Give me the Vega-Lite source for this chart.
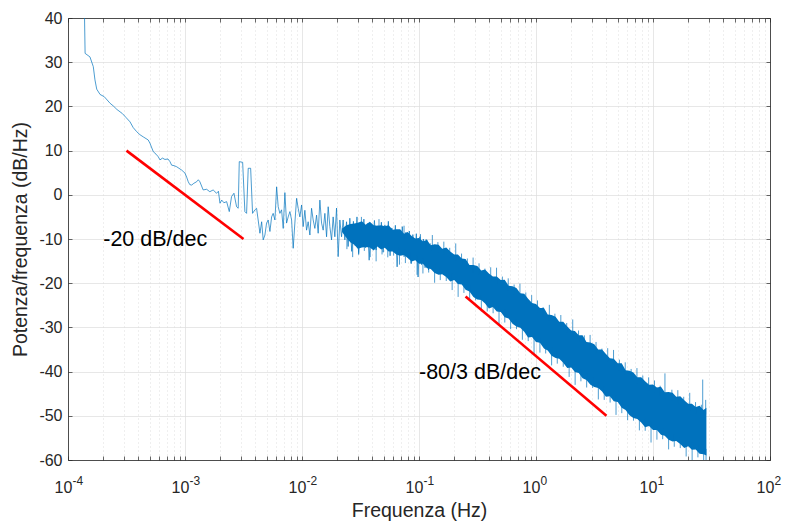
{
  "$schema": "https://vega.github.io/schema/vega-lite/v6.json",
  "width": 702,
  "height": 442,
  "autosize": {"type": "none"},
  "padding": {"left": 68, "top": 18, "right": 15, "bottom": 61},
  "background": "white",
  "config": {"font": "Liberation Sans", "view": {"stroke": null}},
  "datasets": {
    "trace": [
      {"f":0.000137,"p":48},{"f":0.00014,"p":32.0},{"f":0.000154,"p":31.2},{"f":0.0001645,"p":29.0},{"f":0.00017,"p":26.0},{"f":0.000176,"p":23.9},{"f":0.000188,"p":22.7},{"f":0.000204,"p":22.2},{"f":0.000229,"p":20.7},{"f":0.000244,"p":20.1},{"f":0.000262,"p":19.3},{"f":0.000291,"p":18.4},{"f":0.000313,"p":17.5},{"f":0.000339,"p":16.5},{"f":0.000361,"p":15.2},{"f":0.000386,"p":14.3},{"f":0.000412,"p":13.6},{"f":0.00044,"p":13.1},{"f":0.000485,"p":12.4},{"f":0.000502,"p":11.65},{"f":0.000536,"p":9.75},{"f":0.000565,"p":9.2},{"f":0.000591,"p":8.6},{"f":0.000611,"p":7.9},{"f":0.000642,"p":8.3},{"f":0.000674,"p":8.0},{"f":0.000715,"p":8.1},{"f":0.000744,"p":7.5},{"f":0.000769,"p":6.7},{"f":0.000805,"p":6.6},{"f":0.000848,"p":6.35},{"f":0.000888,"p":6.0},{"f":0.000936,"p":5.6},{"f":0.001,"p":4.9},
      {"f":0.001033,"p":4.0},{"f":0.001066,"p":2.95},{"f":0.0011,"p":2.3},{"f":0.00114,"p":2.2},{"f":0.00119,"p":2.6},{"f":0.001257,"p":2.95},{"f":0.0013,"p":3.4},{"f":0.00134,"p":2.95},{"f":0.00143,"p":1.1},{"f":0.00153,"p":1.25},{"f":0.00163,"p":0.7},{"f":0.00174,"p":1.1},{"f":0.00186,"p":0.35},{"f":0.00193,"p":0.8},{"f":0.00199,"p":-1.9},{"f":0.00206,"p":-1.2},{"f":0.00215,"p":-1.8},{"f":0.00227,"p":-1.55},{"f":0.00239,"p":-3.8},{"f":0.0025,"p":-0.4},{"f":0.00262,"p":0.35},{"f":0.00276,"p":-2.7},{"f":0.00285,"p":-3.05},{"f":0.00291,"p":7.5},{"f":0.00311,"p":7.35},{"f":0.00325,"p":-3.8},{"f":0.00336,"p":-4.2},{"f":0.00347,"p":6.0},{"f":0.00364,"p":6.0},{"f":0.00378,"p":-4.2},{"f":0.00396,"p":-3.4},{"f":0.00409,"p":-3.05},{"f":0.00422,"p":-5.7},{"f":0.00437,"p":-8.7},{"f":0.00452,"p":-6.1},{"f":0.00466,"p":-10.2},{"f":0.00482,"p":-9.1},{"f":0.00498,"p":-6.4},{"f":0.00514,"p":-5.7},{"f":0.00532,"p":-8.3},{"f":0.0055,"p":-5.0},{"f":0.00567,"p":-4.2},{"f":0.00587,"p":-5.7},{"f":0.00607,"p":1.8},{"f":0.00626,"p":-2.7},{"f":0.00647,"p":-4.2},{"f":0.00669,"p":-3.4},{"f":0.00691,"p":-7.6},{"f":0.00714,"p":0.5},{"f":0.00738,"p":-6.4},{"f":0.00762,"p":-5.0},{"f":0.00788,"p":-3.8},{"f":0.00815,"p":-5.7},{"f":0.00841,"p":-12.1},{"f":0.00869,"p":-6.4},{"f":0.00899,"p":-0.8},{"f":0.00928,"p":-3.05},{"f":0.00959,"p":-5.0},{"f":0.00992,"p":-2.3},
      {"f":0.01023,"p":-7.2},{"f":0.01058,"p":-3.5},{"f":0.01094,"p":-8.0},{"f":0.01129,"p":-6.1},{"f":0.01168,"p":-9.1},{"f":0.01207,"p":-3.05},{"f":0.01246,"p":-5.7},{"f":0.01288,"p":-7.6},{"f":0.01332,"p":-4.6},{"f":0.01375,"p":-8.7},{"f":0.01422,"p":-1.2},{"f":0.0147,"p":-6.4},{"f":0.01517,"p":-8.0},{"f":0.01569,"p":-4.2},{"f":0.01622,"p":-9.5},{"f":0.01674,"p":-2.7},{"f":0.0173,"p":-7.2},{"f":0.01789,"p":-10.2},{"f":0.01846,"p":-5.0},{"f":0.01909,"p":-9.5},{"f":0.01974,"p":-3.0},{"f":0.02037,"p":-14.0},{"f":0.02106,"p":-5.7},{"f":0.02178,"p":-9.5},{"f":0.02247,"p":-5.7},{"f":0.02324,"p":-10.2},{"f":0.02403,"p":-6.1},{"f":0.0248,"p":-11.7},{"f":0.02564,"p":-5.3},
      {"f":0.0266,"p":-12.8},{"f":0.0275,"p":-6.0},{"f":0.0285,"p":-11.5},{"f":0.0295,"p":-5.0},{"f":0.0305,"p":-13.5},{"f":0.0316,"p":-7.0},{"f":0.0327,"p":-10.5},{"f":0.0338,"p":-5.5},{"f":0.035,"p":-12.0},{"f":0.0362,"p":-6.5},{"f":0.0375,"p":-14.8},{"f":0.0388,"p":-7.5},{"f":0.0402,"p":-11.0},{"f":0.0416,"p":-5.8},{"f":0.043,"p":-12.5},{"f":0.0445,"p":-7.0},{"f":0.0461,"p":-10.8},{"f":0.0477,"p":-6.2},{"f":0.0494,"p":-13.0},{"f":0.0511,"p":-6.8},{"f":0.0529,"p":-11.8},{"f":0.0547,"p":-6.0},{"f":0.0566,"p":-13.8},{"f":0.0586,"p":-7.5},{"f":0.0607,"p":-12.2},{"f":0.0628,"p":-6.9},{"f":0.065,"p":-16.3},{"f":0.0673,"p":-8.0},{"f":0.0696,"p":-12.8},{"f":0.072,"p":-7.2},{"f":0.0746,"p":-14.0},{"f":0.0772,"p":-8.5},{"f":0.0799,"p":-13.2},{"f":0.0827,"p":-8.2},{"f":0.0856,"p":-15.5},{"f":0.0886,"p":-9.0},{"f":0.0917,"p":-14.5},{"f":0.0949,"p":-8.8},{"f":0.0982,"p":-18.6},{"f":0.1016,"p":-9.5},{"f":0.1052,"p":-15.8},{"f":0.1089,"p":-10.0},{"f":0.1127,"p":-16.5},{"f":0.1166,"p":-10.2},{"f":0.1207,"p":-17.0},{"f":0.125,"p":-11.0}
    ],
    "band": [
      {"f":0.022,"hi":-7.6,"lo":-8.4},{"f":0.024,"hi":-6.9,"lo":-9.8},{"f":0.026,"hi":-6.6,"lo":-10.8},{"f":0.028,"hi":-6.5,"lo":-11.3},{"f":0.03,"hi":-6.3,"lo":-12.2},
      {"f":0.0325,"hi":-6.0,"lo":-11.9},{"f":0.035,"hi":-6.8,"lo":-11.8},{"f":0.038,"hi":-6.1,"lo":-11.9},{"f":0.041,"hi":-6.9,"lo":-12.6},{"f":0.044,"hi":-7.0,"lo":-11.7},{"f":0.0475,"hi":-6.9,"lo":-12.4},{"f":0.051,"hi":-7.1,"lo":-12.0},{"f":0.055,"hi":-6.9,"lo":-12.8},{"f":0.0595,"hi":-7.9,"lo":-12.8},{"f":0.064,"hi":-7.8,"lo":-13.5},
      {"f":0.069,"hi":-7.8,"lo":-13.8},{"f":0.0745,"hi":-8.8,"lo":-13.6},{"f":0.08,"hi":-8.4,"lo":-14.3},{"f":0.0865,"hi":-9.3,"lo":-15.1},{"f":0.093,"hi":-9.9,"lo":-14.8},{"f":0.1,"hi":-9.8,"lo":-15.6},{"f":0.108,"hi":-10.5,"lo":-15.6},{"f":0.117,"hi":-10.2,"lo":-16.6},{"f":0.126,"hi":-11.4,"lo":-16.8},{"f":0.136,"hi":-11.2,"lo":-17.7},
      {"f":0.147,"hi":-11.3,"lo":-18.1},{"f":0.158,"hi":-12.2,"lo":-18.0},{"f":0.171,"hi":-11.9,"lo":-18.6},{"f":0.185,"hi":-12.8,"lo":-19.6},{"f":0.2,"hi":-13.5,"lo":-19.3},{"f":0.215,"hi":-13.5,"lo":-20.2},{"f":0.232,"hi":-14.4,"lo":-20.3},{"f":0.25,"hi":-14.5,"lo":-21.5},{"f":0.27,"hi":-15.9,"lo":-21.9},{"f":0.292,"hi":-15.9,"lo":-23.1},
      {"f":0.315,"hi":-16.1,"lo":-23.7},{"f":0.34,"hi":-17.1,"lo":-23.8},{"f":0.367,"hi":-16.9,"lo":-24.6},{"f":0.396,"hi":-17.8,"lo":-25.7},{"f":0.428,"hi":-18.5,"lo":-25.4},{"f":0.462,"hi":-18.5,"lo":-26.4},{"f":0.5,"hi":-19.3,"lo":-26.5},{"f":0.54,"hi":-19.2,"lo":-27.7},{"f":0.583,"hi":-20.6,"lo":-28.0},{"f":0.63,"hi":-20.7,"lo":-29.2},
      {"f":0.68,"hi":-21.1,"lo":-29.8},{"f":0.734,"hi":-22.3,"lo":-30.1},{"f":0.793,"hi":-22.4,"lo":-31.0},{"f":0.856,"hi":-23.5,"lo":-32.3},{"f":0.925,"hi":-24.5,"lo":-32.2},{"f":1.0,"hi":-24.7,"lo":-33.3},{"f":1.08,"hi":-25.6,"lo":-33.5},{"f":1.17,"hi":-25.6,"lo":-34.8},{"f":1.26,"hi":-27.1,"lo":-35.2},{"f":1.36,"hi":-27.2,"lo":-36.4},
      {"f":1.47,"hi":-27.6,"lo":-36.9},{"f":1.58,"hi":-28.7,"lo":-37.1},{"f":1.71,"hi":-28.7,"lo":-38.0},{"f":1.85,"hi":-29.8,"lo":-39.2},{"f":2.0,"hi":-30.7,"lo":-39.1},{"f":2.15,"hi":-30.8,"lo":-40.1},{"f":2.32,"hi":-31.8,"lo":-40.3},{"f":2.5,"hi":-31.8,"lo":-41.5},{"f":2.7,"hi":-33.3,"lo":-41.9},{"f":2.92,"hi":-33.4,"lo":-43.0},
      {"f":3.15,"hi":-33.8,"lo":-43.5},{"f":3.4,"hi":-35.0,"lo":-43.7},{"f":3.67,"hi":-35.0,"lo":-44.5},{"f":3.96,"hi":-36.0,"lo":-45.7},{"f":4.28,"hi":-37.0,"lo":-45.6},{"f":4.62,"hi":-37.1,"lo":-46.7},{"f":5.0,"hi":-38.1,"lo":-46.9},{"f":5.4,"hi":-38.1,"lo":-48.2},{"f":5.83,"hi":-39.7,"lo":-48.7},{"f":6.3,"hi":-39.8,"lo":-49.9},
      {"f":6.8,"hi":-40.2,"lo":-50.5},{"f":7.34,"hi":-41.3,"lo":-50.7},{"f":7.93,"hi":-41.3,"lo":-51.5},{"f":8.56,"hi":-42.2,"lo":-52.6},{"f":9.25,"hi":-43.0,"lo":-52.3},{"f":10,"hi":-42.9,"lo":-53.2},{"f":10.8,"hi":-43.6,"lo":-53.2},{"f":11.7,"hi":-43.4,"lo":-54.3},{"f":12.6,"hi":-44.7,"lo":-54.5},{"f":13.6,"hi":-44.6,"lo":-55.4},
      {"f":14.7,"hi":-44.8,"lo":-55.8},{"f":15.8,"hi":-45.7,"lo":-55.7},{"f":17.1,"hi":-45.6,"lo":-56.4},{"f":18.5,"hi":-46.5,"lo":-57.3},{"f":20,"hi":-47.3,"lo":-56.9},{"f":21.5,"hi":-47.3,"lo":-57.7},{"f":23.2,"hi":-48.0,"lo":-57.6},{"f":25,"hi":-47.7,"lo":-58.6},{"f":27,"hi":-48.7,"lo":-58.7},{"f":28.6,"hi":-48.2,"lo":-59.0}
    ],
    "spikes": [
      {"f":0.0322,"hi":-5.0,"lo":-8},{"f":0.0455,"hi":-5.5,"lo":-8},{"f":0.0745,"hi":-7.0,"lo":-10},
      {"f":0.103,"hi":-8.9,"lo":-11.6},{"f":0.115,"hi":-10.0,"lo":-12.1},{"f":0.13,"hi":-9.1,"lo":-12.6},{"f":0.145,"hi":-10.7,"lo":-13.1},{"f":0.163,"hi":-10.6,"lo":-13.6},{"f":0.183,"hi":-12.0,"lo":-14.2},{"f":0.206,"hi":-11.0,"lo":-14.9},{"f":0.231,"hi":-13.3,"lo":-15.8},{"f":0.259,"hi":-14.4,"lo":-16.7},{"f":0.29,"hi":-14.2,"lo":-17.5},
      {"f":0.326,"hi":-15.5,"lo":-18.1},{"f":0.366,"hi":-16.7,"lo":-18.8},{"f":0.41,"hi":-16.4,"lo":-19.5},{"f":0.46,"hi":-16.5,"lo":-20.2},{"f":0.516,"hi":-18.5,"lo":-20.9},{"f":0.579,"hi":-18.9,"lo":-21.7},{"f":0.65,"hi":-20.3,"lo":-22.5},{"f":0.729,"hi":-20.1,"lo":-23.5},{"f":0.818,"hi":-22.1,"lo":-24.6},{"f":0.918,"hi":-22.7,"lo":-25.6},
      {"f":1.03,"hi":-23.9,"lo":-26.6},{"f":1.15,"hi":-25.4,"lo":-27.5},{"f":1.3,"hi":-24.9,"lo":-28.4},{"f":1.45,"hi":-26.9,"lo":-29.3},{"f":1.63,"hi":-27.2,"lo":-30.2},{"f":1.83,"hi":-29.0,"lo":-31.2},{"f":2.06,"hi":-28.2,"lo":-32.1},{"f":2.31,"hi":-30.7,"lo":-33.2},{"f":2.59,"hi":-31.8,"lo":-34.1},{"f":2.9,"hi":-31.7,"lo":-35.0},
      {"f":3.26,"hi":-33.3,"lo":-35.9},{"f":3.66,"hi":-34.8,"lo":-36.9},{"f":4.1,"hi":-34.7,"lo":-37.8},{"f":4.6,"hi":-35.1,"lo":-38.8},{"f":5.16,"hi":-37.3,"lo":-39.7},{"f":5.79,"hi":-37.9,"lo":-40.7},{"f":6.5,"hi":-39.4,"lo":-41.6},{"f":7.29,"hi":-39.2,"lo":-42.6},{"f":8.18,"hi":-40.9,"lo":-43.4},{"f":9.18,"hi":-41.3,"lo":-44.2},
      {"f":10.3,"hi":-42.0,"lo":-44.7},{"f":11.5,"hi":-43.2,"lo":-45.3},{"f":12.65,"hi":-40.4,"lo":-46.0},{"f":14.5,"hi":-44.1,"lo":-46.5},{"f":16.3,"hi":-44.2,"lo":-47.2},{"f":18.3,"hi":-45.7,"lo":-47.9},{"f":20.6,"hi":-44.8,"lo":-48.7},{"f":23.1,"hi":-46.9,"lo":-49.4},{"f":25.9,"hi":-47.5,"lo":-49.8},{"f":26.6,"hi":-41.8,"lo":-49.5},{"f":28.2,"hi":-46.4,"lo":-49.7},
      {"f":0.0242,"hi":-9.8,"lo":-12.3},{"f":0.0271,"hi":-10.0,"lo":-14.1},{"f":0.0305,"hi":-10.3,"lo":-13.1},{"f":0.0341,"hi":-10.3,"lo":-12.7},{"f":0.0383,"hi":-10.4,"lo":-14.1},{"f":0.043,"hi":-10.55,"lo":-15.05},{"f":0.0483,"hi":-10.8,"lo":-13.5},{"f":0.0541,"hi":-11.05,"lo":-14.15},{"f":0.0607,"hi":-11.45,"lo":-13.75},{"f":0.0681,"hi":-11.9,"lo":-15.8},{"f":0.0765,"hi":-12.45,"lo":-15.45},{"f":0.0858,"hi":-13.05,"lo":-15.65},{"f":0.0962,"hi":-13.8,"lo":-18.1},
      {"f":0.108,"hi":-14.5,"lo":-17.8},{"f":0.121,"hi":-15.1,"lo":-17.6},{"f":0.136,"hi":-15.8,"lo":-19.9},{"f":0.152,"hi":-16.5,"lo":-19.3},{"f":0.171,"hi":-17.1,"lo":-19.5},{"f":0.192,"hi":-17.85,"lo":-21.55},{"f":0.216,"hi":-18.6,"lo":-23.1},{"f":0.242,"hi":-19.5,"lo":-22.2},{"f":0.271,"hi":-20.5,"lo":-23.6},{"f":0.305,"hi":-21.6,"lo":-23.9},
      {"f":0.341,"hi":-22.5,"lo":-26.4},{"f":0.383,"hi":-23.4,"lo":-26.4},{"f":0.43,"hi":-24.2,"lo":-26.8},{"f":0.483,"hi":-25.1,"lo":-29.4},{"f":0.541,"hi":-26.0,"lo":-28.9},{"f":0.607,"hi":-27.0,"lo":-30.4},{"f":0.681,"hi":-28.0,"lo":-30.4},{"f":0.765,"hi":-29.2,"lo":-32.8},{"f":0.858,"hi":-30.3,"lo":-33.1},{"f":0.962,"hi":-31.35,"lo":-36.05},
      {"f":1.08,"hi":-32.4,"lo":-35.7},{"f":1.21,"hi":-33.4,"lo":-35.9},{"f":1.36,"hi":-34.5,"lo":-38.6},{"f":1.52,"hi":-35.4,"lo":-38.2},{"f":1.71,"hi":-36.5,"lo":-38.9},{"f":1.92,"hi":-37.5,"lo":-41.2},{"f":2.16,"hi":-38.5,"lo":-43.0},{"f":2.42,"hi":-39.5,"lo":-42.2},{"f":2.71,"hi":-40.5,"lo":-43.6},{"f":3.05,"hi":-41.4,"lo":-43.7},
      {"f":3.41,"hi":-42.4,"lo":-46.3},{"f":3.83,"hi":-43.4,"lo":-46.4},{"f":4.3,"hi":-44.4,"lo":-47.0},{"f":4.83,"hi":-45.5,"lo":-49.8},{"f":5.41,"hi":-46.5,"lo":-49.4},{"f":6.07,"hi":-47.6,"lo":-51.0},{"f":6.81,"hi":-48.7,"lo":-51.1},{"f":7.65,"hi":-49.7,"lo":-53.3},{"f":8.58,"hi":-50.6,"lo":-53.4},{"f":9.62,"hi":-51.35,"lo":-56.05},
      {"f":10.8,"hi":-52.1,"lo":-55.4},{"f":12.1,"hi":-52.8,"lo":-55.3},{"f":13.6,"hi":-53.5,"lo":-57.6},{"f":15.2,"hi":-54.2,"lo":-57.0},{"f":17.1,"hi":-54.9,"lo":-57.3},{"f":19.2,"hi":-55.5,"lo":-59.2},{"f":21.6,"hi":-56.1,"lo":-60.0},{"f":24.2,"hi":-56.7,"lo":-59.4},{"f":27.1,"hi":-57.3,"lo":-60.0},{"f":28.4,"hi":-57.5,"lo":-60.0}
    ],
    "slopes": [
      {"s":"a","f":0.0003162,"p":10},{"s":"a","f":0.003162,"p":-10},
      {"s":"b","f":0.25,"p":-23},{"s":"b","f":4.0,"p":-50}
    ],
    "notes": [
      {"f":0.0002,"p":-10.2,"t":"-20 dB/dec"},
      {"f":0.1,"p":-40.3,"t":"-80/3 dB/dec"}
    ]
  },
  "resolve": {"axis": {"x": "independent", "y": "independent"}},
  "layer": [
    {
      "data": {"name": "trace"},
      "mark": {"type": "line", "color": "#0072BD", "strokeWidth": 0.7, "clip": true},
      "encoding": {
        "x": {"field": "f", "type": "quantitative", "scale": {"type": "log", "domain": [0.0001, 100], "nice": false},
          "axis": {
            "orient": "bottom",
            "values": [0.0001,0.0002,0.0003,0.0004,0.0005,0.0006,0.0007,0.0008,0.0009,0.001,0.002,0.003,0.004,0.005,0.006,0.007,0.008,0.009,0.01,0.02,0.03,0.04,0.05,0.06,0.07,0.08,0.09,0.1,0.2,0.3,0.4,0.5,0.6,0.7,0.8,0.9,1,2,3,4,5,6,7,8,9,10,20,30,40,50,60,70,80,90,100],
            "labelExpr": "abs(log(datum.value)/LN10-round(log(datum.value)/LN10))>0.01?'':'10'",
            "labelFontSize": 16, "labelColor": "#262626", "labelBaseline": "alphabetic", "labelPadding": 36, "labelOffset": -5,
            "labelFlush": false, "labelOverlap": false, "labelBound": false,
            "tickSize": -4, "tickColor": "#262626", "tickWidth": 0.7,
            "domainColor": "#262626", "domainWidth": 0.8,
            "grid": true,
            "gridColor": {"condition": {"test": "abs(log(datum.value)/LN10-round(log(datum.value)/LN10))<0.01", "value": "#dcdcdc"}, "value": "#d2d2d2"},
            "gridDash": {"condition": {"test": "abs(log(datum.value)/LN10-round(log(datum.value)/LN10))<0.01", "value": []}, "value": [1, 3]},
            "gridWidth": 0.7,
            "title": "Frequenza (Hz)", "titleFontSize": 19.5, "titleFontWeight": "normal", "titleColor": "#262626",
            "titleY": 56, "titleBaseline": "alphabetic"
          }
        },
        "y": {"field": "p", "type": "quantitative", "scale": {"domain": [-60, 40], "nice": false, "zero": false},
          "axis": {
            "orient": "left",
            "values": [-60,-50,-40,-30,-20,-10,0,10,20,30,40],
            "labelExpr": "'' + datum.value",
            "labelFontSize": 16, "labelColor": "#262626", "labelPadding": 10,
            "tickSize": -4, "tickColor": "#262626", "tickWidth": 0.7,
            "domainColor": "#262626", "domainWidth": 0.8,
            "grid": true, "gridColor": "#dcdcdc", "gridWidth": 0.7,
            "title": "Potenza/frequenza (dB/Hz)", "titleFontSize": 19.5, "titleFontWeight": "normal", "titleColor": "#262626",
            "titleX": -48, "titleY": 221, "titleBaseline": "middle"
          }
        }
      }
    },
    {
      "data": {"name": "band"},
      "mark": {"type": "area", "color": "#0072BD", "opacity": 1, "clip": true},
      "encoding": {
        "x": {"field": "f", "type": "quantitative", "scale": {"type": "log"},
          "axis": {
            "orient": "bottom",
            "values": [0.0001,0.001,0.01,0.1,1,10,100],
            "labelExpr": "'' + round(log(datum.value)/LN10)",
            "labelFontSize": 12, "labelColor": "#262626", "labelBaseline": "alphabetic", "labelAlign": "left",
            "labelPadding": 24, "labelOffset": 4,
            "labelFlush": false, "labelOverlap": false, "labelBound": false,
            "ticks": false, "tickSize": 0, "domain": false, "grid": false, "title": null
          }
        },
        "y": {"field": "hi", "type": "quantitative", "axis": null},
        "y2": {"field": "lo"}
      }
    },
    {
      "data": {"name": "spikes"},
      "mark": {"type": "rule", "color": "#0072BD", "strokeWidth": 0.7, "clip": true},
      "encoding": {
        "x": {"field": "f", "type": "quantitative", "scale": {"type": "log"}, "axis": null},
        "y": {"field": "hi", "type": "quantitative", "axis": null},
        "y2": {"field": "lo"}
      }
    },
    {
      "data": {"name": "slopes"},
      "mark": {"type": "line", "color": "#FF0000", "strokeWidth": 2.6},
      "encoding": {
        "detail": {"field": "s"},
        "x": {"field": "f", "type": "quantitative", "scale": {"type": "log"},
          "axis": {
            "orient": "top",
            "values": [0.0001,0.0002,0.0003,0.0004,0.0005,0.0006,0.0007,0.0008,0.0009,0.001,0.002,0.003,0.004,0.005,0.006,0.007,0.008,0.009,0.01,0.02,0.03,0.04,0.05,0.06,0.07,0.08,0.09,0.1,0.2,0.3,0.4,0.5,0.6,0.7,0.8,0.9,1,2,3,4,5,6,7,8,9,10,20,30,40,50,60,70,80,90,100],
            "labels": false, "grid": false, "title": null,
            "tickSize": -4, "tickColor": "#262626", "tickWidth": 0.7,
            "domainColor": "#262626", "domainWidth": 0.8
          }
        },
        "y": {"field": "p", "type": "quantitative",
          "axis": {
            "orient": "right",
            "values": [-60,-50,-40,-30,-20,-10,0,10,20,30,40],
            "labels": false, "grid": false, "title": null,
            "tickSize": -4, "tickColor": "#262626", "tickWidth": 0.7,
            "domainColor": "#262626", "domainWidth": 0.8
          }
        }
      }
    },
    {
      "data": {"name": "notes"},
      "mark": {"type": "text", "align": "left", "baseline": "middle", "fontSize": 21.5, "font": "Liberation Sans", "color": "#000000"},
      "encoding": {
        "x": {"field": "f", "type": "quantitative", "scale": {"type": "log"}, "axis": null},
        "y": {"field": "p", "type": "quantitative", "axis": null},
        "text": {"field": "t"}
      }
    }
  ]
}
